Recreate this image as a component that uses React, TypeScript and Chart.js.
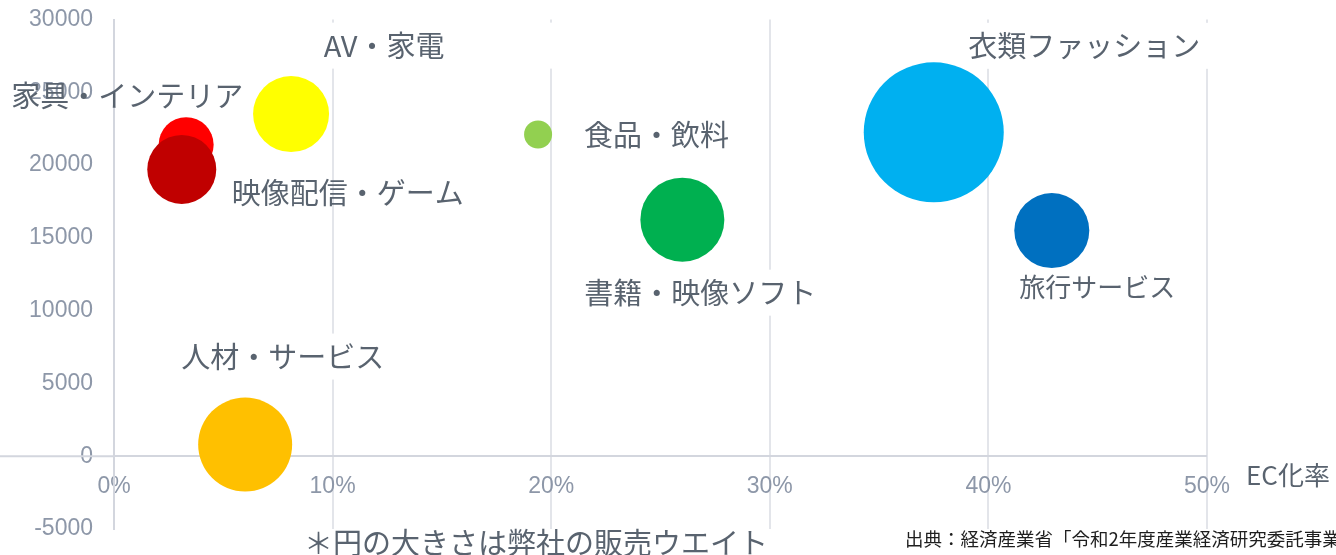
import React, { useEffect, useRef } from 'react';
import { Chart, registerables } from 'chart.js';

Chart.register(...registerables);

// ---- data ----
const categories = [
  '家具・インテリア',
  '映像配信・ゲーム',
  'AV・家電',
  '人材・サービス',
  '食品・飲料',
  '書籍・映像ソフト',
  '衣類ファッション',
  '旅行サービス',
];
const ecRate = [3.3, 3.1, 8.1, 6.0, 19.4, 26.0, 37.5, 42.9]; // %
const marketSize = [21400, 19700, 23500, 800, 22100, 16250, 22250, 15500];
const salesWeight = [27.5, 34.5, 38, 47, 14, 42, 70, 37.5]; // bubble radius
const xTickValues = [0, 10, 20, 30, 40, 50];
const yTickValues = [-5000, 0, 5000, 10000, 15000, 20000, 25000, 30000];
const xAxisTitle = 'EC化率';
const noteText = '＊円の大きさは弊社の販売ウエイト';
const sourceText = '出典：経済産業省「令和2年度産業経済研究委託事業（電子商取引に関する市場調査）」';

// ---- styles ----
const bubbleColors = ['#FF0000', '#C00000', '#FFFF00', '#FFC000', '#92D050', '#00B050', '#00B0F0', '#0070C0'];
const LABEL_COLOR = '#59636f';
const TICK_COLOR = '#8d97a8';
const JP_FONT = "'Noto Sans CJK JP', 'Noto Sans', sans-serif";
const NUM_FONT = "'Liberation Sans', Arial, sans-serif";

// label placement relative to bubble centre (px), box = [padLeft, padRight] of white background
const labelLayout: { dx: number; dy: number; size: number; box: number[] | null }[] = [
  { dx: -59, dy: -48.5, size: 29, box: null },
  { dx: 166, dy: 23.5, size: 29, box: null },
  { dx: 93, dy: -68.5, size: 29, box: [20, 112] },
  { dx: 37.5, dy: -88, size: 29, box: [10, 10] },
  { dx: 118.5, dy: 0, size: 29, box: [10, 10] },
  { dx: 18, dy: 73, size: 29, box: [10, 10] },
  { dx: 150.5, dy: -86.5, size: 29, box: [10, 10] },
  { dx: 45.5, dy: 56.5, size: 26, box: [10, 10] },
];

function labelCentre(chart: any, i: number) {
  const el = chart.getDatasetMeta(0).data[i];
  const o = labelLayout[i];
  return { cx: el.x + o.dx, cy: el.y + o.dy, o };
}

const annotationPlugin = {
  id: 'annotations',
  beforeDatasetsDraw(chart: any) {
    const { ctx, chartArea, scales } = chart;
    const y0 = scales.y.getPixelForValue(0);
    ctx.save();
    // white boxes behind labels (hide grid lines)
    categories.forEach((name, i) => {
      const { cx, cy, o } = labelCentre(chart, i);
      if (!o.box) return;
      ctx.font = `${o.size}px ${JP_FONT}`;
      const w = ctx.measureText(name).width;
      ctx.fillStyle = '#ffffff';
      ctx.fillRect(cx - w / 2 - o.box[0], cy - 23, w + o.box[0] + o.box[1], 46);
    });
    // zero line extension to the left edge
    ctx.strokeStyle = '#d3d6de';
    ctx.lineWidth = 2;
    ctx.beginPath();
    ctx.moveTo(0, y0);
    ctx.lineTo(chartArea.left, y0);
    ctx.stroke();
    ctx.restore();
  },
  afterDatasetsDraw(chart: any) {
    const { ctx } = chart;
    ctx.save();
    ctx.textAlign = 'center';
    ctx.textBaseline = 'middle';
    categories.forEach((name, i) => {
      const { cx, cy, o } = labelCentre(chart, i);
      ctx.font = `${o.size}px ${JP_FONT}`;
      ctx.fillStyle = LABEL_COLOR;
      ctx.fillText(name, cx, cy);
    });
    ctx.restore();
  },
  afterDraw(chart: any) {
    const { ctx, chartArea, scales } = chart;
    const y0 = scales.y.getPixelForValue(0);
    ctx.save();
    ctx.textBaseline = 'middle';
    ctx.textAlign = 'left';
    ctx.fillStyle = LABEL_COLOR;
    ctx.font = `26px ${JP_FONT}`;
    ctx.fillText(xAxisTitle, chartArea.right + 39, y0 + 19);
    ctx.font = `29px ${JP_FONT}`;
    ctx.fillText(noteText, 304, chartArea.bottom + 14);
    ctx.fillStyle = '#1e1e1e';
    ctx.font = `18.5px ${JP_FONT}`;
    ctx.fillText(sourceText, 905, chartArea.bottom + 10);
    ctx.restore();
  },
};

export default function App() {
  const ref = useRef<HTMLCanvasElement | null>(null);
  useEffect(() => {
    if (!ref.current) return;
    const chart = new Chart(ref.current, {
      type: 'bubble',
      data: {
        datasets: [
          {
            label: 'EC',
            data: categories.map((_, i) => ({ x: ecRate[i], y: marketSize[i], r: salesWeight[i] })),
            backgroundColor: bubbleColors,
            borderWidth: 0,
            hoverBorderWidth: 0,
            clip: false,
          } as any,
        ],
      },
      options: {
        animation: false,
        responsive: false,
        devicePixelRatio: 1,
        layout: { autoPadding: false, padding: { left: 0, right: 129, top: 19.5, bottom: 26 } } as any,
        plugins: { legend: { display: false }, tooltip: { enabled: false } },
        scales: {
          x: {
            type: 'linear',
            position: { y: 0 } as any,
            min: xTickValues[0],
            max: xTickValues[xTickValues.length - 1],
            afterBuildTicks: (s: any) => {
              s.ticks = xTickValues.map((v) => ({ value: v }));
            },
            afterFit: (s: any) => {
              s.height = 0;
              s.paddingLeft = 0;
              s.paddingRight = 0;
              s.paddingTop = 0;
              s.paddingBottom = 0;
            },
            ticks: {
              callback: (v: any) => `${v}%`,
              color: TICK_COLOR,
              font: { family: NUM_FONT, size: 23 },
              padding: 17,
              maxRotation: 0,
            },
            grid: { color: '#e3e5ea', lineWidth: 2, drawTicks: false },
            border: { display: false },
          },
          y: {
            type: 'linear',
            min: yTickValues[0],
            max: yTickValues[yTickValues.length - 1],
            afterBuildTicks: (s: any) => {
              s.ticks = yTickValues.map((v) => ({ value: v }));
            },
            afterFit: (s: any) => {
              s.width = 114;
              s.paddingTop = 0;
              s.paddingBottom = 0;
              s.paddingLeft = 0;
              s.paddingRight = 0;
            },
            ticks: {
              callback: (v: any) => String(v),
              color: TICK_COLOR,
              font: { family: NUM_FONT, size: 23 },
              padding: 21,
            },
            grid: {
              color: (c: any) => (c.tick && c.tick.value === 0 ? '#d3d6de' : 'rgba(0,0,0,0)'),
              lineWidth: 2,
              drawTicks: false,
            },
            border: { display: true, color: '#d3d6de', width: 2 },
          },
        },
      },
      plugins: [annotationPlugin],
    });
    return () => chart.destroy();
  }, []);
  return (
    <div style={{ position: 'fixed', left: 0, top: 0, width: 1336, height: 555, background: '#fff' }}>
      <canvas ref={ref} width={1336} height={555} style={{ display: 'block' }} />
    </div>
  );
}
